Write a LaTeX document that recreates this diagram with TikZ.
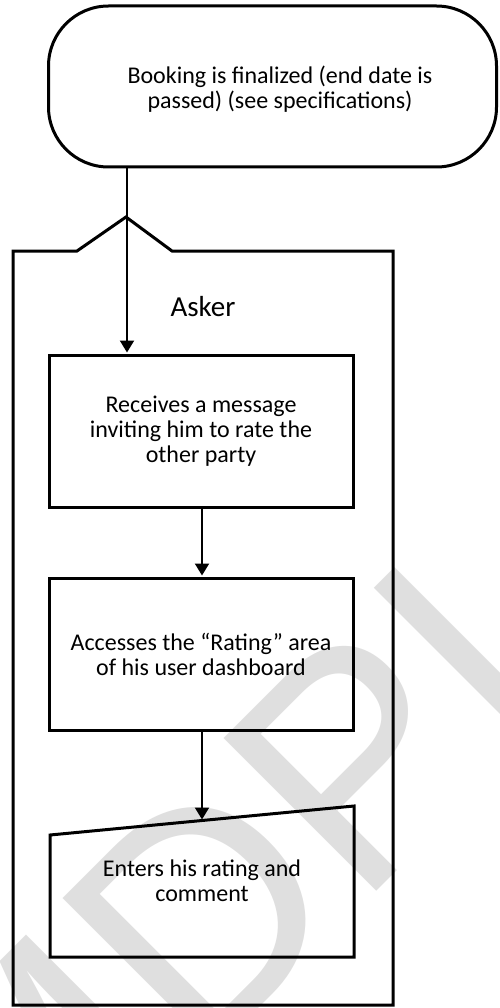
\documentclass[tikz,border=0pt]{standalone}
\usepackage{fontspec}
\setmainfont{Carlito}
\newfontfamily\wmfont{Liberation Sans}
\usetikzlibrary{arrows.meta}
\begin{document}
\begin{tikzpicture}[x=1pt,y=-1pt,
  shapeline/.style={line width=3pt},
  terminal/.style={draw, line width=3pt, rounded corners=60pt, minimum width=448pt, minimum height=161pt, inner sep=0pt},
  procbox/.style={draw, line width=3pt, minimum width=304pt, minimum height=152pt, align=center, inner sep=0pt, font=\fontsize{24}{25}\selectfont},
  txt/.style={align=center, inner sep=0pt, font=\fontsize{24}{25}\selectfont},
  arr/.style={line width=2pt, -{Triangle[length=12pt,width=14pt]}, shorten >=1pt},
  watermark/.style={rotate=45, text=gray!25, inner sep=0pt, font=\wmfont\fontsize{314}{314}\selectfont},
]
\useasboundingbox (0,0) rectangle (499,1008);
% watermark
\node[watermark] (wm) at (214,901) {MDPI};

% start terminator
\node[terminal] (start) at (272.5,86.5) {};
\node[txt] (starttext) at (280,89.5) {Booking is finalized (end date is\\passed) (see specifications)};

% swimlane container
\draw[shapeline] (13,251) -- (77,251) -- (126,217) -- (172,251) -- (393,251) -- (393,1005) -- (13,1005) -- cycle;
\node[font=\fontsize{29}{30}\selectfont, anchor=base, inner sep=0pt] (asker) at (203,316) {Asker};

% process boxes
\node[procbox] (box1) at (201,431) {Receives a message\\inviting him to rate the\\other party};
\node[procbox] (box2) at (201,654) {Accesses the “Rating” area\\of his user dashboard};

% manual input
\draw[shapeline] (50,835) -- (354,806) -- (354,957) -- (50,957) -- cycle;
\node[txt] (box3) at (202,881) {Enters his rating and\\comment};
\coordinate (b3top) at (202,820.5);

% connectors
\coordinate (c1) at (127,0);
\coordinate (c2) at (202,0);
\draw[arr] (start.south -| c1) -- (box1.north -| c1);
\draw[arr] (box1.south -| c2) -- (box2.north -| c2);
\draw[arr] (box2.south -| c2) -- (b3top);
\end{tikzpicture}
\end{document}
